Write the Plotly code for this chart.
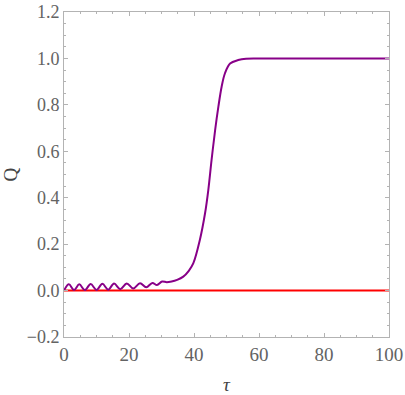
import plotly.graph_objects as go

# purple curve
tau = [0, 1.5, 3.1, 4.7, 6.4, 8.2, 10.0, 11.8, 13.6, 15.4, 17.3, 19.3, 21.3,
       23.4, 25.3, 27.2, 28.6, 30.2, 31.6, 33.1, 34.8, 36.7, 38.4, 39.8,
       41.8, 43.4, 44.4, 45.4, 46.5, 47.5, 48.5, 49.5, 51.1, 53.6, 56,
       60, 70, 80, 90, 100]
Q = [0.0, 0.027, 0.002, 0.027, 0.002, 0.028, 0.003, 0.029, 0.004, 0.030,
     0.006, 0.031, 0.009, 0.032, 0.014, 0.033, 0.024, 0.039, 0.036, 0.039,
     0.046, 0.060, 0.085, 0.118, 0.218, 0.333, 0.433, 0.562, 0.691, 0.792,
     0.878, 0.935, 0.978, 0.993, 0.999, 1.0, 1.0, 1.0, 1.0, 1.0]

zero_tau = [0, 100]
zero_Q = [0, 0]

x_ticks = [0, 20, 40, 60, 80, 100]
y_ticks = [-0.2, 0.0, 0.2, 0.4, 0.6, 0.8, 1.0, 1.2]

FONT = 'Liberation Serif'
GRAY = '#636363'
AXIS = '#b3b3b3'

fig = go.Figure()
fig.add_trace(go.Scatter(x=zero_tau, y=zero_Q, mode='lines',
                         line={'color': '#ff0000', 'width': 2}))
fig.add_trace(go.Scatter(x=tau, y=Q, mode='lines',
                         line={'color': '#880088', 'width': 2,
                               'shape': 'spline', 'smoothing': 1.0}))

axis_common = dict(
    showline=True, linecolor=AXIS, linewidth=1, mirror='ticks',
    showgrid=False, zeroline=False, automargin=False,
    ticks='inside', ticklen=4, tickwidth=1, tickcolor=AXIS,
)

fig.update_layout(
    width=405, height=395,
    margin={'l': 64, 'r': 16, 't': 12, 'b': 58},
    paper_bgcolor='white', plot_bgcolor='white',
    showlegend=False,
    xaxis=dict(axis_common, range=[0, 100], tickvals=x_ticks,
               tickfont={'family': FONT, 'size': 19, 'color': GRAY},
               minor={'dtick': 5, 'ticks': 'inside', 'ticklen': 2,
                      'tickcolor': AXIS},
               title={'text': '<i>τ</i>', 'standoff': 13,
                      'font': {'family': FONT, 'size': 19, 'color': '#444444'}}),
    yaxis=dict(axis_common, range=[-0.2, 1.2], tickvals=y_ticks,
               tickformat='.1f',
               tickfont={'family': FONT, 'size': 18, 'color': GRAY},
               minor={'dtick': 0.05, 'tick0': 0, 'ticks': 'inside',
                      'ticklen': 2, 'tickcolor': AXIS},
               title={'text': 'Q', 'standoff': 13,
                      'font': {'family': FONT, 'size': 19, 'color': '#444444'}}),
)

# the page's default 8px body margin would shift the figure
fig.write_html("out.html", config={'displayModeBar': False},
               post_script="document.body.style.margin='0';")
